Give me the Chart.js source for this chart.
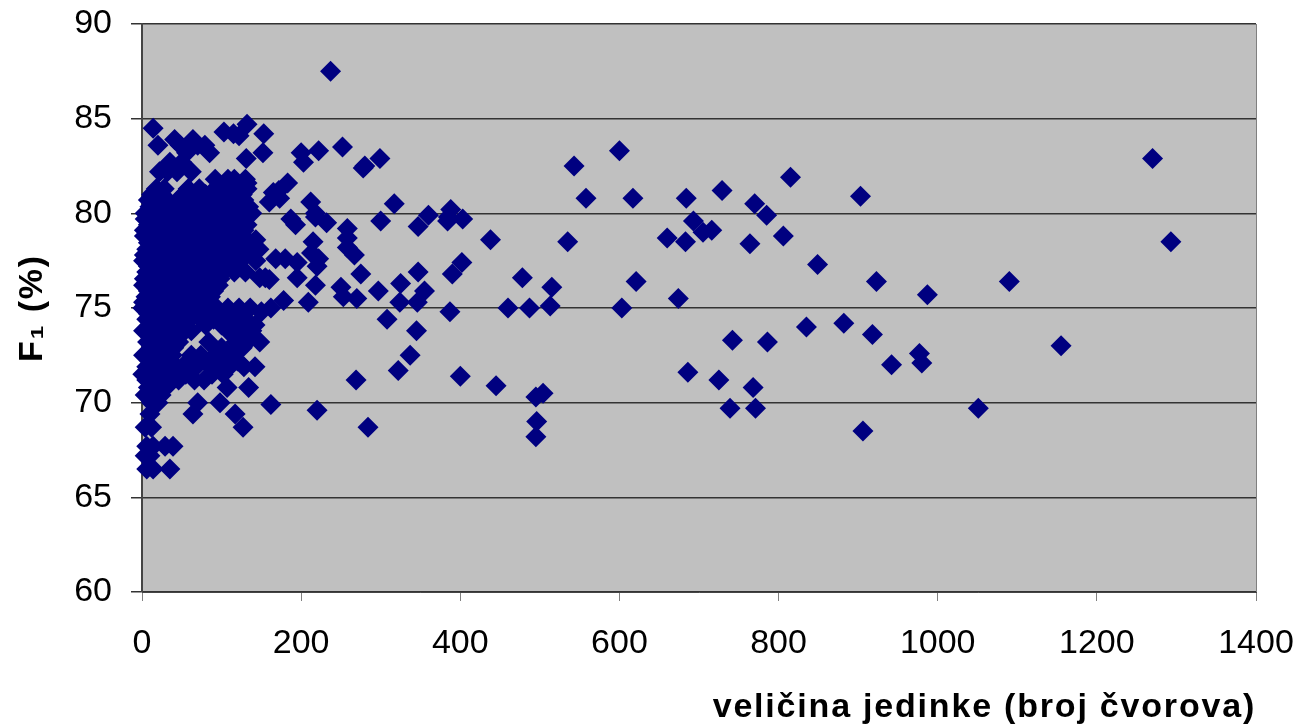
<!DOCTYPE html>
<html>
<head>
<meta charset="utf-8">
<style>
  body { margin: 0; background: #fff; }
  canvas { display: block; }
</style>
<script src="https://cdn.jsdelivr.net/npm/chart.js@4"></script>
</head>
<body>
<canvas id="scatterChart" width="1299" height="726"></canvas>
<script>
// right hand part, single diamonds
var sparseX = [237,1270,1293,1155,1090,1051,987,980,977,942,918,923,903,906,882,835,849,815,
  600,543,558,535,515,513,478,487,460,438,403,388,385,384,360,347,317,300,299,280,278,252,222,200,203,
  617,603,621,660,683,684,693,705,716,729,764,770,785,806,674,686,725,742,786,768,739,771,
  495,504,496,495,445,400,402,390,347,387,355,346,345,337,322,325,324,308,297,275,270,253,250,269,284,220,
  258,258,258,267,218,212,218,215,213,222,220,218,209,195,195,180,187,193,183,172,165,160,173,168,178,162,150,148,155,160,162,
  143,147,143,153,152,132,122,103,115,131,132,232];
var sparseY = [87.5,82.9,78.5,73,76.4,69.7,75.7,72.1,72.6,72,73.6,76.4,80.9,68.5,74.2,74,77.3,81.9,
  83.3,82.5,80.8,78.5,76.1,75.1,76.6,75,75,78.6,79.7,80.2,79.8,79.6,79.9,79.3,80.5,79.6,82.9,82.5,82.4,83.5,83.3,83.2,82.7,
  80.8,75,76.4,78.7,78.5,80.8,79.6,79,79.1,81.2,78.4,80.5,79.9,78.8,75.5,71.6,71.2,73.3,73.2,70.8,69.7,69.7,
  70.3,70.5,69,68.2,70.9,71.4,77.4,76.8,76.9,74.8,75.9,75.3,73.8,72.5,71.7,76.3,75.3,74.4,75.9,76.8,75.5,75.6,76.1,71.2,68.7,69.6,
  79.2,78.7,78.2,77.8,80,80.6,79.8,78.5,77.9,77.6,77.2,76.2,75.3,76.6,77.4,77.6,79.7,79.4,81.6,81.2,81.1,80.6,80.8,77.6,75.4,75,74.8,76.6,76.6,76.5,69.9,
  78.6,78.1,77.5,84.2,83.2,84.7,84.1,84.3,84.2,82.9,81.6,79.5];

// crowded part near the y axis, by row of F1
var denseRows = [
  [84.5, [14]],
  [83.9, [41,64]],
  [83.6, [20,48,70,79]],
  [83.2, [56,85]],
  [82.7, [35,50]],
  [82.2, [22,32,44,62]],
  [81.8, [92,108,116,130]],
  [81.3, [18,28,58,72,92,105,118,132]],
  [81.0, [12,24,52,66,80,98,112,126]],
  [80.7, [8,20,32,46,60,74,88,100,114,128]],
  [80.35, [10,24,38,50,70,84,104,118,134]],
  [80.0, [4,16,28,40,54,66,80,96,110,124,138]],
  [79.7, [4,14,28,42,56,70,84,98,112,126]],
  [79.4, [8,22,34,48,62,76,90,104,118,132]],
  [79.1, [3,16,30,44,58,72,86,100,114,128]],
  [78.8, [3,14,26,40,56,70,84,98,112,126]],
  [78.45, [8,20,34,50,66,80,94,108,120,136]],
  [78.1, [6,18,32,46,62,76,92,106,120,134]],
  [77.8, [3,14,28,42,56,70,86,100,114,128]],
  [77.5, [2,12,26,38,52,68,82,96,110,124]],
  [77.2, [8,22,36,48,64,78,92,106,122]],
  [76.9, [6,20,32,46,60,74,88,102,116,130]],
  [76.55, [3,16,28,42,56,70,84,98]],
  [76.2, [2,14,26,40,54,68,82,96]],
  [75.9, [8,22,34,48,62,76,90]],
  [75.6, [5,18,30,44,58,72,86]],
  [75.3, [2,14,26,40,54,68,82]],
  [75.0, [1,12,24,38,52,66,80,94,108,122,136]],
  [74.7, [8,20,34,48,62,76,88,104,126]],
  [74.4, [6,18,32,46,60,74,90,116,130]],
  [74.1, [10,22,36,50,80,100,126,142]],
  [73.8, [2,14,26,40,54,62,108,122,138]],
  [73.2, [7,20,32,46,84,118,132,148]],
  [72.9, [12,26,40,100,126]],
  [72.5, [2,14,26,38,62,74,92,112]],
  [72.2, [10,22,36,58,80,98,120]],
  [71.9, [6,18,32,52,68,86,110,128,142]],
  [71.5, [1,12,24,40,55,88,102]],
  [71.2, [6,18,30,46,66,78]],
  [70.8, [8,18,30,107,134]],
  [70.4, [4,14,24]],
  [70.0, [12,20,70,98]],
  [69.4, [10,64,117]],
  [68.7, [4,12,127]],
  [67.7, [6,14,29,39]],
  [67.2, [4,10]],
  [66.5, [6,14,35]]
];

var xTicks = [0, 200, 400, 600, 800, 1000, 1200, 1400];

var points = [];
sparseX.forEach(function(x, i) {
  points.push({ x: x, y: sparseY[i] });
});
denseRows.forEach(function(row) {
  row[1].forEach(function(x) {
    points.push({ x: x, y: row[0] });
  });
});

var plotBackground = {
  id: 'plotBackground',
  beforeDraw: function(chart) {
    var a = chart.chartArea, ctx = chart.ctx;
    ctx.save();
    ctx.fillStyle = '#c0c0c0';
    ctx.fillRect(a.left, a.top, a.width, a.height);
    ctx.restore();
    // axis titles are spaced wider than the tick labels
    ctx.letterSpacing = '1.8px';
  },
  beforeDatasetsDraw: function(chart) {
    var a = chart.chartArea, ctx = chart.ctx;
    ctx.letterSpacing = '0px';
    ctx.save();
    ctx.strokeStyle = '#808080';
    ctx.beginPath();
    ctx.moveTo(a.right + 0.5, a.top);
    ctx.lineTo(a.right + 0.5, a.bottom);
    ctx.stroke();
    ctx.restore();
  }
};

new Chart(document.getElementById('scatterChart'), {
  type: 'scatter',
  data: {
    datasets: [{
      data: points,
      clip: false,
      pointStyle: 'rectRot',
      pointRadius: 10.5,
      pointBackgroundColor: '#000080',
      pointBorderWidth: 0
    }]
  },
  plugins: [plotBackground],
  options: {
    responsive: false,
    animation: false,
    layout: { padding: { top: 24, right: 43, left: 0, bottom: 0 } },
    plugins: { legend: { display: false }, tooltip: { enabled: false } },
    scales: {
      x: {
        type: 'linear',
        min: 0,
        max: 1400,
        afterFit: function(scale) {
          scale.height = 134;
          scale.paddingLeft = 0;
          scale.paddingRight = 0;
        },
        afterBuildTicks: function(scale) {
          scale.ticks = xTicks.map(function(v) { return { value: v }; });
        },
        ticks: {
          z: 1,
          maxRotation: 0,
          padding: 22,
          color: '#000',
          callback: function(v) { return String(v); },
          font: { family: 'Liberation Sans', size: 34 }
        },
        grid: { drawOnChartArea: false, tickLength: 9, color: '#808080' },
        border: { color: '#444' },
        title: {
          display: true,
          text: 'veličina jedinke (broj čvorova)',
          align: 'end',
          color: '#000',
          padding: { top: 0, bottom: 0 },
          font: { family: 'Liberation Sans', size: 34, weight: 'bold', lineHeight: 1.1 }
        }
      },
      y: {
        min: 60,
        max: 90,
        afterFit: function(scale) {
          scale.width = 142;
          scale.paddingTop = 0;
          scale.paddingBottom = 0;
        },
        ticks: {
          z: 1,
          stepSize: 5,
          padding: 19,
          color: '#000',
          font: { family: 'Liberation Sans', size: 34 }
        },
        grid: { color: '#333', lineWidth: 1.5, tickLength: 11 },
        border: { color: '#444', width: 2 },
        title: {
          display: true,
          text: 'F₁ (%)',
          color: '#000',
          padding: { top: 12, bottom: 0 },
          font: { family: 'Liberation Sans', size: 34, weight: 'bold' }
        }
      }
    }
  }
});
</script>
</body>
</html>
